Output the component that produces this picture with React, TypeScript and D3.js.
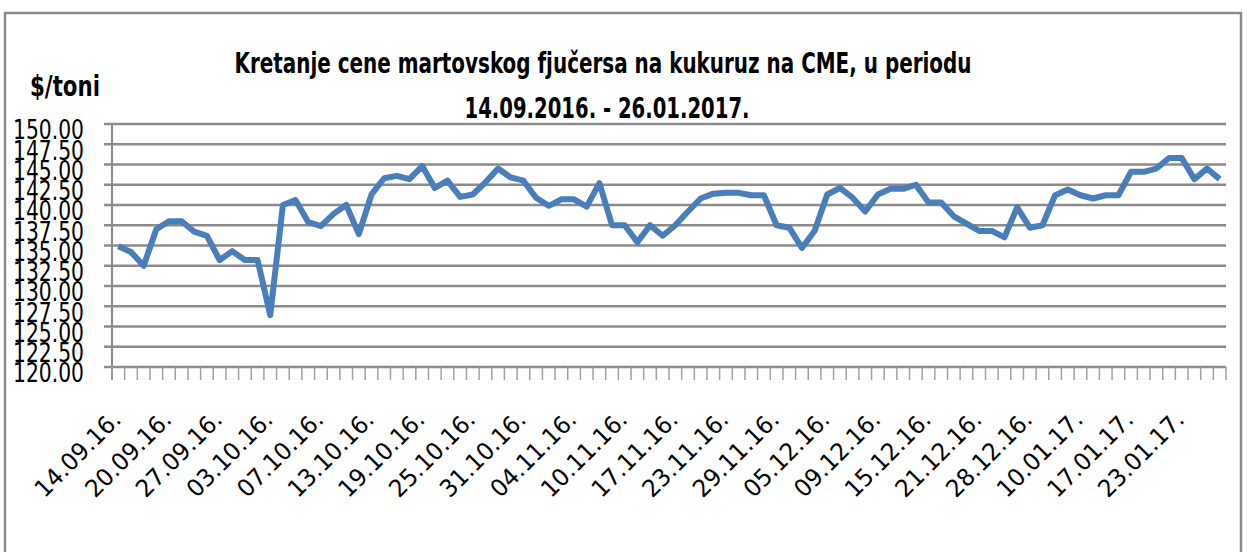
import React from "react";
import * as d3 from "d3";

// trading days of the March corn futures (CME)
const dates = [
  "14.09.16.", "15.09.16.", "16.09.16.", "19.09.16.", "20.09.16.", "21.09.16.", "22.09.16.", "23.09.16.",
  "27.09.16.", "28.09.16.", "29.09.16.", "30.09.16.", "03.10.16.", "04.10.16.", "05.10.16.", "06.10.16.",
  "07.10.16.", "10.10.16.", "11.10.16.", "12.10.16.", "13.10.16.", "14.10.16.", "17.10.16.", "18.10.16.",
  "19.10.16.", "20.10.16.", "21.10.16.", "24.10.16.", "25.10.16.", "26.10.16.", "27.10.16.", "28.10.16.",
  "31.10.16.", "01.11.16.", "02.11.16.", "03.11.16.", "04.11.16.", "07.11.16.", "08.11.16.", "09.11.16.",
  "10.11.16.", "14.11.16.", "15.11.16.", "16.11.16.", "17.11.16.", "18.11.16.", "21.11.16.", "22.11.16.",
  "23.11.16.", "24.11.16.", "25.11.16.", "28.11.16.", "29.11.16.", "30.11.16.", "01.12.16.", "02.12.16.",
  "05.12.16.", "06.12.16.", "07.12.16.", "08.12.16.", "09.12.16.", "12.12.16.", "13.12.16.", "14.12.16.",
  "15.12.16.", "16.12.16.", "19.12.16.", "20.12.16.", "21.12.16.", "22.12.16.", "23.12.16.", "27.12.16.",
  "28.12.16.", "29.12.16.", "30.12.16.", "03.01.17.", "10.01.17.", "11.01.17.", "12.01.17.", "13.01.17.",
  "17.01.17.", "18.01.17.", "19.01.17.", "20.01.17.", "23.01.17.", "24.01.17.", "25.01.17.", "26.01.17.",
];

// $/toni
const prices = [
  134.9, 134.2, 132.5, 137.0, 138.0, 138.0, 136.7, 136.2, 133.2, 134.3,
  133.2, 133.2, 126.4, 140.0, 140.6, 137.9, 137.4, 138.9, 140.0, 136.4,
  141.3, 143.3, 143.6, 143.2, 144.8, 142.1, 143.0, 141.0, 141.3, 142.8,
  144.5, 143.4, 143.0, 140.9, 139.9, 140.7, 140.7, 139.8, 142.7, 137.5,
  137.5, 135.4, 137.5, 136.2, 137.5, 139.2, 140.8, 141.4, 141.5, 141.5,
  141.2, 141.2, 137.5, 137.2, 134.7, 136.8, 141.3, 142.1, 140.9, 139.2,
  141.3, 142.0, 142.0, 142.5, 140.3, 140.3, 138.6, 137.7, 136.8, 136.8,
  136.0, 139.7, 137.2, 137.5, 141.2, 141.9, 141.2, 140.8, 141.2, 141.2,
  144.1, 144.1, 144.5, 145.8, 145.8, 143.2, 144.5, 143.2,
];

const yTicks = [120, 122.5, 125, 127.5, 130, 132.5, 135, 137.5, 140, 142.5, 145, 147.5, 150];
const labelEvery = 4;

const W = 1247;
const H = 552;
const left = 112;
const right = 1226;
const top = 124;
const bottom = 367;

const font = "'Liberation Sans Narrow', 'DejaVu Sans Condensed', 'Open Sans', sans-serif";

export default function App() {
  const x = d3.scaleBand<number>().domain(d3.range(dates.length)).range([left, right]);
  const y = d3.scaleLinear().domain([120, 150]).range([bottom, top]);
  const line = d3
    .line<number>()
    .x((_, i) => x(i)! + x.bandwidth() / 2)
    .y((d) => y(d));

  const bounds = d3.range(dates.length + 1).map((i) => left + i * x.bandwidth());
  const shown = dates.map((d, i) => ({ d, i })).filter((o) => o.i % labelEvery === 0);

  return (
    <svg
      width={W}
      height={H}
      style={{ position: "absolute", left: 0, top: 0, background: "#fff" }}
      fontFamily={font}
    >
      <rect x={5} y={13} width={1236} height={560} fill="#fff" stroke="#8a8a8a" strokeWidth={2.5} />

      <text x={603} y={73} textAnchor="middle" fontSize={29} fontWeight="bold" textLength={737} lengthAdjust="spacingAndGlyphs">
        Kretanje cene martovskog fjučersa na kukuruz na CME, u periodu
      </text>
      <text x={607} y={118} textAnchor="middle" fontSize={29} fontWeight="bold" textLength={285} lengthAdjust="spacingAndGlyphs">
        14.09.2016. - 26.01.2017.
      </text>
      <text x={30} y={96} fontSize={29} fontWeight="bold" textLength={70} lengthAdjust="spacingAndGlyphs">
        $/toni
      </text>

      {yTicks.map((t) => (
        <g key={t}>
          <line x1={104} x2={right} y1={y(t)} y2={y(t)} stroke="#8c8c8c" strokeWidth={2.5} />
          <text
            x={84}
            y={y(t) + 6}
            dy="0.36em"
            textAnchor="end"
            fontSize={26}
            textLength={71}
            lengthAdjust="spacingAndGlyphs"
          >
            {t.toFixed(2)}
          </text>
        </g>
      ))}

      <line x1={left} x2={left} y1={top} y2={bottom + 13} stroke="#8c8c8c" strokeWidth={2} />
      {bounds.map((bx, i) => (
        <line key={i} x1={bx} x2={bx} y1={bottom} y2={bottom + 13} stroke="#a0a0a0" strokeWidth={1.5} />
      ))}

      {shown.map(({ d, i }) => {
        const cx = x(i)! + x.bandwidth() / 2;
        return (
          <text
            key={d}
            transform={`translate(${cx + 4},${bottom + 54}) rotate(-45)`}
            textAnchor="end"
            fontSize={24}
            textLength={110}
            lengthAdjust="spacingAndGlyphs"
          >
            {d}
          </text>
        );
      })}

      <path d={line(prices) ?? ""} fill="none" stroke="#4a7ebb" strokeWidth={6} strokeLinejoin="round" />
    </svg>
  );
}
